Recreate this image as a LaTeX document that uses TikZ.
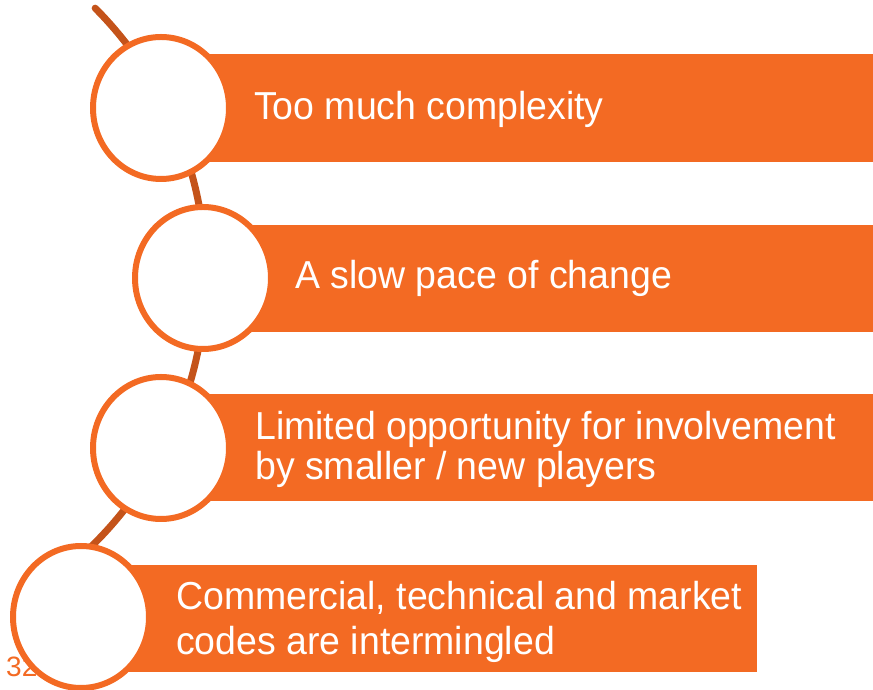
\documentclass[tikz,border=0pt]{standalone}
\usepackage{fontspec}
\setmainfont{Liberation Sans}
\usetikzlibrary{calc, positioning}
\usepackage{xcolor}
\definecolor{barorange}{HTML}{F36A23}
\definecolor{curvebrown}{HTML}{C4531A}

\begin{document}
\begin{tikzpicture}[line cap=round,line join=round,x=1pt,y=1pt,
  bar/.style={fill=barorange},
  bead/.style={draw=barorange, fill=white, line width=6pt},
  label/.style={anchor=base west, text=white, xscale=0.96, inner sep=0pt, align=left,
    font=\fontsize{39}{40}\selectfont}]
\useasboundingbox (0,0) rectangle (873,690);

% centres of the circles
\coordinate (C1) at (161,582);
\coordinate (C2) at (203,412);
\coordinate (C3) at (161,242);
\coordinate (C4) at (81,73);

% slide number
\node (num) [anchor=base west, inner sep=0pt, text=barorange, font=\fontsize{28}{28}\selectfont] at (6,13) {32};

% the curved line behind the circles
\draw [curvebrown, line width=7pt] (-173,414.6) ++(44.9:378.6) arc [start angle=44.9, end angle=-55, radius=378.6];

% bars
\fill [bar] (C1 |- 0,528) rectangle (873,636);
\fill [bar] (C2 |- 0,358) rectangle (873,465);
\fill [bar] (C3 |- 0,189) rectangle (873,296);
\fill [bar] (C4 |- 0,18) rectangle (757,125);

% circles
\foreach \c in {C1,C2,C3,C4}
  \filldraw [bead] (\c) ellipse [x radius=68, y radius=71];

% texts (base = last line)
\node (t1) [label] at (254,570) {Too much complexity};
\node (t2) [label] at (295,401) {A slow pace of change};
\node (t3) [label] at (255,210) {Limited opportunity for involvement\\by smaller / new players};
\node (t4) [label, font=\fontsize{39}{45}\selectfont] at (176,35) {Commercial, technical and market\\codes are intermingled};

\end{tikzpicture}
\end{document}
